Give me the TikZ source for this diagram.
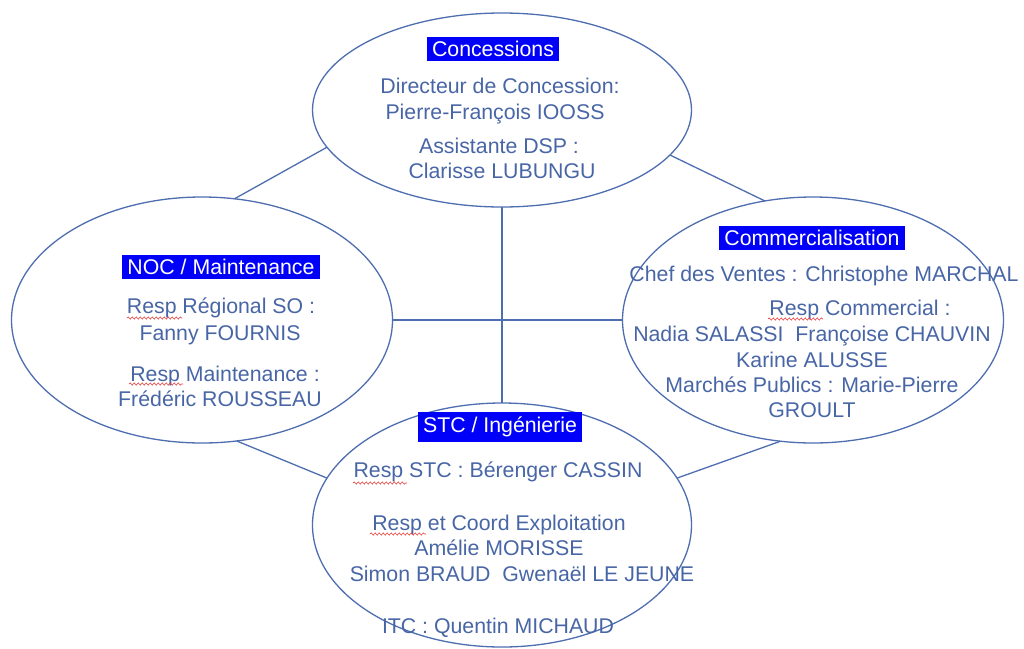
\documentclass[tikz,border=0pt]{standalone}
\usepackage{fontspec}
\setmainfont{Liberation Sans}
\usetikzlibrary{shapes.geometric,decorations.pathmorphing}
\definecolor{txtblue}{RGB}{72,102,166}
\definecolor{lineblue}{RGB}{78,110,176}
\definecolor{hlblue}{RGB}{0,0,250}
\definecolor{squig}{RGB}{235,60,60}
\tikzset{
  oval/.style={ellipse,draw=lineblue,line width=1.3pt,inner sep=0pt,outer sep=0pt},
  link/.style={draw=lineblue,line width=1.3pt},
  txt/.style={text=txtblue,font=\fontsize{21.3}{26}\selectfont,inner sep=0pt,anchor=mid,yshift=-5.5pt},
  title/.style={fill=hlblue,text=white,font=\fontsize{21.3}{26}\selectfont,inner xsep=5pt,inner ysep=4.5pt,yshift=-1pt},
  spell/.style={draw=squig,line width=0.6pt,decorate,decoration={snake,amplitude=1.1pt,segment length=4pt}}
}
\begin{document}
\begin{tikzpicture}[x=1pt,y=-1pt]
\useasboundingbox[fill=white] (0,0) rectangle (1024,648);
% ellipses
\node[oval,minimum width=379pt,minimum height=194pt] (conc) at (502,110) {};
\node[oval,minimum width=381pt,minimum height=246pt] (noc) at (202,320) {};
\node[oval,minimum width=381pt,minimum height=246pt] (com) at (813,320) {};
\node[oval,minimum width=379pt,minimum height=244pt] (stc) at (502,525) {};
% connectors
\draw[link] (conc.south) -- (stc.north);
\draw[link] (noc.east) -- (com.west);
\draw[link] (conc.192) -- (noc.75);
\draw[link] (conc.345) -- (com.112);
\draw[link] (noc.286) -- (stc.165);
\draw[link] (com.255) -- (stc.15);
% Concessions
\node[title] (t1) at (493,48) {Concessions};
\node[txt] (c1) at (500,85) {Directeur de Concession:};
\node[txt] (c2) at (495,111) {Pierre-François IOOSS};
\node[txt] (c3) at (499,145) {Assistante DSP :};
\node[txt] (c4) at (502,170) {Clarisse LUBUNGU};
% NOC
\node[title] (t2) at (221,266) {NOC / Maintenance};
\node[txt] (n1) at (221,305) {Resp Régional SO :};
\node[txt] (n2) at (220,332) {Fanny FOURNIS};
\node[txt] (n3) at (225,373) {Resp Maintenance :};
\node[txt] (n4) at (220,398) {Frédéric ROUSSEAU};
% Commercialisation
\node[title] (t3) at (812,237) {Commercialisation};
\node[txt] (m1) at (824,273) {Chef des Ventes : Christophe MARCHAL};
\node[txt] (m2) at (860,307) {Resp Commercial :};
\node[txt] (m3) at (812,333) {Nadia SALASSI\ \ Françoise CHAUVIN};
\node[txt] (m4) at (812,359) {Karine ALUSSE};
\node[txt] (m5) at (812,384) {Marchés Publics : Marie-Pierre};
\node[txt] (m6) at (812,409) {GROULT};
% STC
\node[title] (t4) at (500,426) {STC / Ingénierie};
\node[txt] (s1) at (498,469) {Resp STC : Bérenger CASSIN};
\node[txt] (s2) at (499,522) {Resp et Coord Exploitation};
\node[txt] (s3) at (499,547) {Amélie MORISSE};
\node[txt] (s4) at (522,573) {Simon BRAUD\ \ Gwenaël LE JEUNE};
\node[txt] (s5) at (498,625) {ITC : Quentin MICHAUD};
% spell-check underlines
\draw[spell] (127,318) -- (182,318);
\draw[spell] (129,384) -- (183,384);
\draw[spell] (768,319) -- (823,319);
\draw[spell] (353,483) -- (407,483);
\draw[spell] (370,534) -- (426,534);
\end{tikzpicture}
\end{document}
